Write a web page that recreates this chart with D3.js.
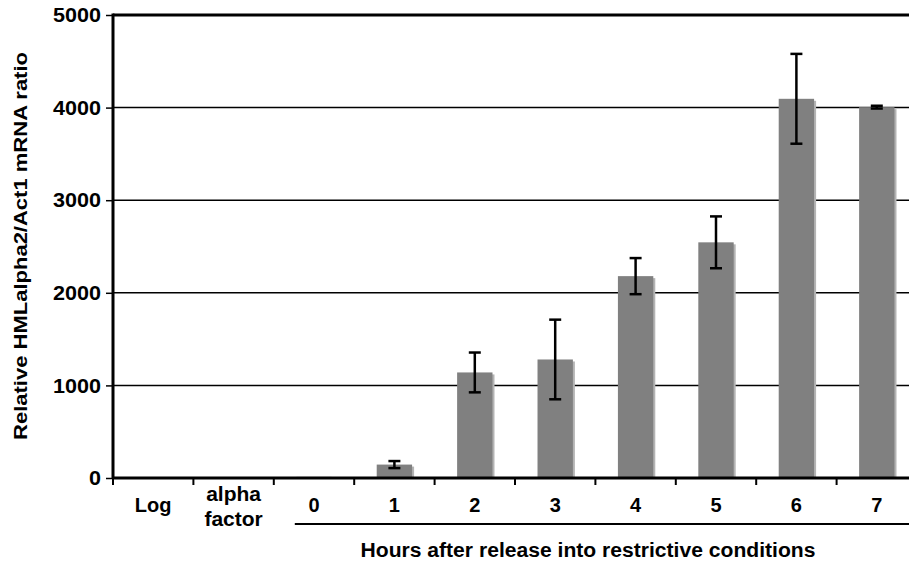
<!DOCTYPE html>
<html>
<head>
    <script src="https://d3js.org/d3.v7.min.js"></script>
</head>
<body style="margin:0;background:#fff">
    <script>
        const [width, height] = [909, 563]

        // values
        const categories = ["Log", "alpha factor", "0", "1", "2", "3", "4", "5", "6", "7"];
        const ratio = [8, 3, 12, 145, 1140, 1280, 2180, 2545, 4095, 4005];
        const errors = [0, 0, 0, 38, 215, 430, 195, 280, 485, 15];
        const yTicks = [0, 1000, 2000, 3000, 4000, 5000];

        const plotLeft = 113, plotTop = 15, plotBottom = 478, plotRight = 917;
        const font = "'Liberation Sans', Arial, sans-serif";

        const svg = d3.select("body")
            .append("svg")
            .attr("width", width)
            .attr("height", height)
            .style("display", "block")
            .style("font-family", font)
            .style("font-weight", "bold");

        const x = d3.scaleBand()
            .domain(categories)
            .range([plotLeft, plotRight])
            .paddingInner(0.56)
            .paddingOuter(0.28);

        const y = d3.scaleLinear()
            .domain([0, 5000])
            .range([plotBottom, plotTop]);

        // gridlines
        svg.append("g")
            .selectAll("line")
            .data(yTicks.filter(d => d > 0 && d < 5000))
            .enter()
            .append("line")
            .attr("x1", plotLeft).attr("x2", plotRight)
            .attr("y1", d => y(d)).attr("y2", d => y(d))
            .style("stroke", "#000")
            .style("stroke-width", 1.5);

        // top frame line
        svg.append("line")
            .attr("x1", plotLeft).attr("x2", plotRight)
            .attr("y1", y(5000)).attr("y2", y(5000))
            .style("stroke", "#000")
            .style("stroke-width", 3);

        // bars, with a pale edge on the right like the original
        const bars = svg.append("g")
            .selectAll("g")
            .data(categories)
            .enter()
            .append("g");

        bars.append("rect")
            .attr("x", d => x(d) + x.bandwidth() - 1)
            .attr("width", 3)
            .attr("y", (d, i) => y(ratio[i]) + 2)
            .attr("height", (d, i) => Math.max(0, plotBottom - y(ratio[i]) - 2))
            .style("fill", "#b4b4b4");

        bars.append("rect")
            .attr("x", d => x(d))
            .attr("width", x.bandwidth())
            .attr("y", (d, i) => y(ratio[i]))
            .attr("height", (d, i) => plotBottom - y(ratio[i]))
            .style("fill", "#808080");

        // error bars
        const idx = d => categories.indexOf(d);
        const cx = d => x(d) + x.bandwidth() / 2;

        const err = svg.append("g")
            .selectAll("g")
            .data(categories.filter((d, i) => errors[i] > 0))
            .enter()
            .append("g")
            .style("stroke", "#000")
            .style("stroke-width", 2.5);

        err.append("line")
            .attr("x1", cx).attr("x2", cx)
            .attr("y1", d => y(ratio[idx(d)] + errors[idx(d)]))
            .attr("y2", d => y(ratio[idx(d)] - errors[idx(d)]));
        err.selectAll(".cap")
            .data(d => [[d, 1], [d, -1]])
            .enter()
            .append("line")
            .attr("x1", d => cx(d[0]) - 6).attr("x2", d => cx(d[0]) + 6)
            .attr("y1", d => y(ratio[idx(d[0])] + d[1] * errors[idx(d[0])]))
            .attr("y2", d => y(ratio[idx(d[0])] + d[1] * errors[idx(d[0])]));

        // y axis
        const yAxis = svg.append("g")
            .attr("transform", `translate(${plotLeft},0)`)
            .call(d3.axisLeft(y).tickValues(yTicks).tickSize(7).tickPadding(5).tickFormat(d3.format("d")));
        yAxis.select(".domain").attr("d", `M0,${plotTop - 1.5}V${plotBottom}`).style("stroke-width", 3);
        yAxis.selectAll(".tick line").style("stroke-width", 1.5);
        yAxis.selectAll("text")
            .attr("textLength", d => String(d).length * 12)
            .attr("lengthAdjust", "spacingAndGlyphs")
            .style("font-size", "21px")
            .style("font-family", font)
            .style("font-weight", "bold")
            .attr("fill", "#000");

        // x axis: ticks on category boundaries
        const boundaries = categories.map(d => x(d) - x.step() * x.paddingInner() / 2);
        const xAxis = svg.append("g");
        xAxis.append("line")
            .attr("x1", plotLeft).attr("x2", plotRight)
            .attr("y1", plotBottom).attr("y2", plotBottom)
            .style("stroke", "#000")
            .style("stroke-width", 3);
        xAxis.selectAll(".xt")
            .data(boundaries)
            .enter()
            .append("line")
            .attr("x1", d => d).attr("x2", d => d)
            .attr("y1", plotBottom).attr("y2", plotBottom + 7)
            .style("stroke", "#000")
            .style("stroke-width", 2);

        const labels = xAxis.selectAll(".xl")
            .data(categories)
            .enter()
            .append("text")
            .attr("x", cx)
            .attr("y", 512)
            .attr("text-anchor", "middle")
            .style("font-size", "20px");
        labels.filter(d => d !== "alpha factor").text(d => d);
        labels.filter(d => d === "alpha factor")
            .selectAll("tspan")
            .data(d => d.split(" "))
            .enter()
            .append("tspan")
            .attr("x", function () { return this.parentNode.getAttribute("x"); })
            .attr("y", (d, i) => 501 + i * 25)
            .style("font-size", "21px")
            .text(d => d);

        // bracket under hours
        svg.append("line")
            .attr("x1", boundaries[2] + 21).attr("x2", plotRight)
            .attr("y1", 524).attr("y2", 524)
            .style("stroke", "#000")
            .style("stroke-width", 2);

        svg.append("text")
            .attr("x", 588)
            .attr("y", 557)
            .attr("text-anchor", "middle")
            .attr("textLength", 455)
            .attr("lengthAdjust", "spacingAndGlyphs")
            .style("font-size", "20px")
            .text("Hours after release into restrictive conditions");

        svg.append("text")
            .attr("transform", "translate(27,246) rotate(-90)")
            .attr("text-anchor", "middle")
            .attr("textLength", 388)
            .attr("lengthAdjust", "spacingAndGlyphs")
            .style("font-size", "19px")
            .text("Relative HMLalpha2/Act1 mRNA ratio");
    </script>
</body>
</html>
